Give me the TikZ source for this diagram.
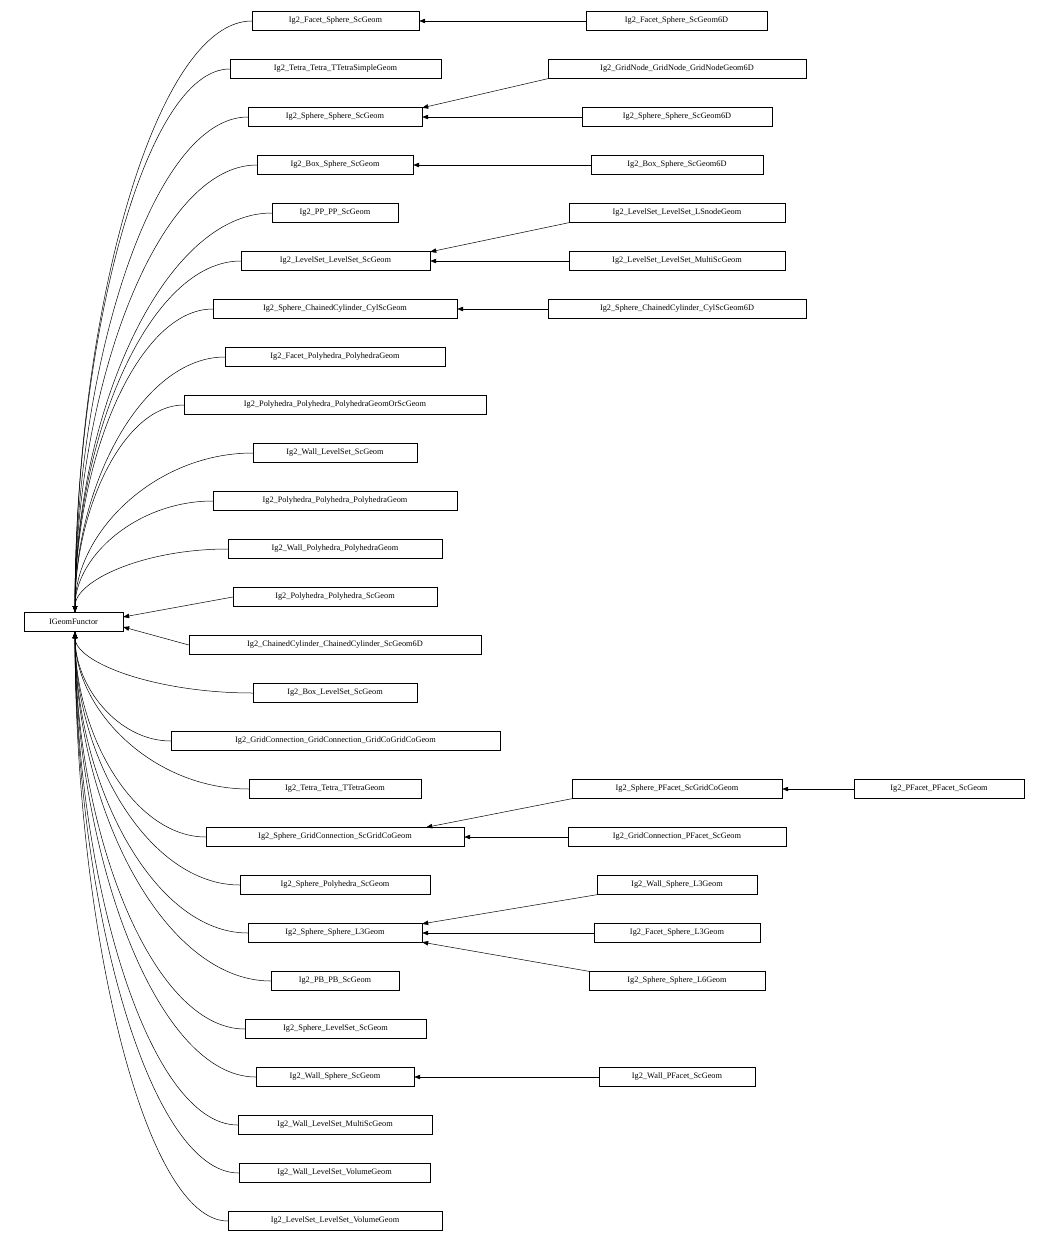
\documentclass[tikz,border=0pt]{standalone}
\usepackage{fontspec}
\setmainfont{Liberation Serif}
\usetikzlibrary{arrows.meta}
\begin{document}
\begin{tikzpicture}[x=1pt,y=-1pt,
  box/.style={draw,inner sep=0pt,minimum height=19pt,font=\fontsize{8.3}{10}\selectfont},
  inh/.style={-{Triangle[length=6pt,width=4.5pt]},line width=0.5pt}]
\useasboundingbox (0,0) rectangle (1049,1244);
\node[box,minimum width=99pt] (base) at (73.5,622) {IGeomFunctor};
\foreach \n/\t/\l/\r/\y in {
 m1/Ig2\_Facet\_Sphere\_ScGeom/252/419/21,
 m2/Ig2\_Tetra\_Tetra\_TTetraSimpleGeom/230/441/69,
 m3/Ig2\_Sphere\_Sphere\_ScGeom/248/422/117,
 m4/Ig2\_Box\_Sphere\_ScGeom/257/413/165,
 m5/Ig2\_PP\_PP\_ScGeom/272/398/213,
 m6/Ig2\_LevelSet\_LevelSet\_ScGeom/241/430/261,
 m7/Ig2\_Sphere\_ChainedCylinder\_CylScGeom/213/457/309,
 m8/Ig2\_Facet\_Polyhedra\_PolyhedraGeom/225/445/357,
 m9/Ig2\_Polyhedra\_Polyhedra\_PolyhedraGeomOrScGeom/184/486/405,
 m10/Ig2\_Wall\_LevelSet\_ScGeom/253/417/453,
 m11/Ig2\_Polyhedra\_Polyhedra\_PolyhedraGeom/213/457/501,
 m12/Ig2\_Wall\_Polyhedra\_PolyhedraGeom/228/442/549,
 m13/Ig2\_Polyhedra\_Polyhedra\_ScGeom/233/437/597,
 m14/Ig2\_ChainedCylinder\_ChainedCylinder\_ScGeom6D/189/481/645,
 m15/Ig2\_Box\_LevelSet\_ScGeom/253/417/693,
 m16/Ig2\_GridConnection\_GridConnection\_GridCoGridCoGeom/171/500/741,
 m17/Ig2\_Tetra\_Tetra\_TTetraGeom/249/421/789,
 m18/Ig2\_Sphere\_GridConnection\_ScGridCoGeom/206/464/837,
 m19/Ig2\_Sphere\_Polyhedra\_ScGeom/240/430/885,
 m20/Ig2\_Sphere\_Sphere\_L3Geom/248/422/933,
 m21/Ig2\_PB\_PB\_ScGeom/271/399/981,
 m22/Ig2\_Sphere\_LevelSet\_ScGeom/245/426/1029,
 m23/Ig2\_Wall\_Sphere\_ScGeom/256/414/1077,
 m24/Ig2\_Wall\_LevelSet\_MultiScGeom/238/432/1125,
 m25/Ig2\_Wall\_LevelSet\_VolumeGeom/239/430/1173,
 m26/Ig2\_LevelSet\_LevelSet\_VolumeGeom/228/442/1221}{
  \pgfmathsetmacro\w{\r-\l}\pgfmathsetmacro\c{(\r+\l)/2}
  \node[box,minimum width=\w pt] (\n) at (\c,\y) {\t};
}
% connectors to base
\foreach \i/\l/\y in {1/252/21,2/230/69,3/248/117,4/257/165,5/272/213,6/241/261,7/213/309,8/225/357,9/184/405,10/253/453,11/213/501,12/228/549}{
  \pgfmathsetmacro\ca{\l-0.55*(\l-75)}\pgfmathsetmacro\cb{612-0.5*(612-\y)}
  \coordinate (e\i) at (75,612);
  \draw[inh] (m\i.west) .. controls (\ca,\y) and (75,\cb) .. (e\i);
}
\draw[inh] (m13.west) -- (base.east |- 0,617);
\draw[inh] (m14.west) -- (base.east |- 0,627);
\foreach \i/\l/\y in {15/253/693,16/171/741,17/249/789,18/206/837,19/240/885,20/248/933,21/271/981,22/245/1029,23/256/1077,24/238/1125,25/239/1173,26/228/1221}{
  \pgfmathsetmacro\ca{\l-0.55*(\l-75)}\pgfmathsetmacro\cb{632+0.5*(\y-632)}
  \coordinate (f\i) at (75,632);
  \draw[inh] (m\i.west) .. controls (\ca,\y) and (75,\cb) .. (f\i);
}
% right column
\foreach \n/\t/\l/\r/\y in {
 r1/Ig2\_Facet\_Sphere\_ScGeom6D/586/767/21,
 r2/Ig2\_GridNode\_GridNode\_GridNodeGeom6D/548/806/69,
 r3/Ig2\_Sphere\_Sphere\_ScGeom6D/582/772/117,
 r4/Ig2\_Box\_Sphere\_ScGeom6D/591/763/165,
 r5/Ig2\_LevelSet\_LevelSet\_LSnodeGeom/569/785/213,
 r6/Ig2\_LevelSet\_LevelSet\_MultiScGeom/569/785/261,
 r7/Ig2\_Sphere\_ChainedCylinder\_CylScGeom6D/548/806/309,
 r8/Ig2\_Sphere\_PFacet\_ScGridCoGeom/572/782/789,
 r9/Ig2\_GridConnection\_PFacet\_ScGeom/568/786/837,
 r10/Ig2\_Wall\_Sphere\_L3Geom/597/757/885,
 r11/Ig2\_Facet\_Sphere\_L3Geom/594/760/933,
 r12/Ig2\_Sphere\_Sphere\_L6Geom/589/765/981,
 r13/Ig2\_Wall\_PFacet\_ScGeom/599/755/1077,
 r14/Ig2\_PFacet\_PFacet\_ScGeom/854/1024/789}{
  \pgfmathsetmacro\w{\r-\l}\pgfmathsetmacro\c{(\r+\l)/2}
  \node[box,minimum width=\w pt] (\n) at (\c,\y) {\t};
}
\draw[inh] (r1.west) -- (m1.east);
\draw[inh] (r2.south west) -- ([yshift=-0.5pt]m3.north east);
\draw[inh] (r3.west) -- (m3.east);
\draw[inh] (r4.west) -- (m4.east);
\draw[inh] (r5.south west) -- ([yshift=-0.5pt]m6.north east);
\draw[inh] (r6.west) -- (m6.east);
\draw[inh] (r7.west) -- (m7.east);
\draw[inh] (r8.south west) -- ([xshift=-38pt]m18.north east);
\draw[inh] (r9.west) -- (m18.east);
\draw[inh] (r10.south west) -- ([yshift=-0.5pt]m20.north east);
\draw[inh] (r11.west) -- (m20.east);
\draw[inh] (r12.north west) -- ([yshift=0.5pt]m20.south east);
\draw[inh] (r13.west) -- (m23.east);
\draw[inh] (r14.west) -- (r8.east);
\end{tikzpicture}
\end{document}
